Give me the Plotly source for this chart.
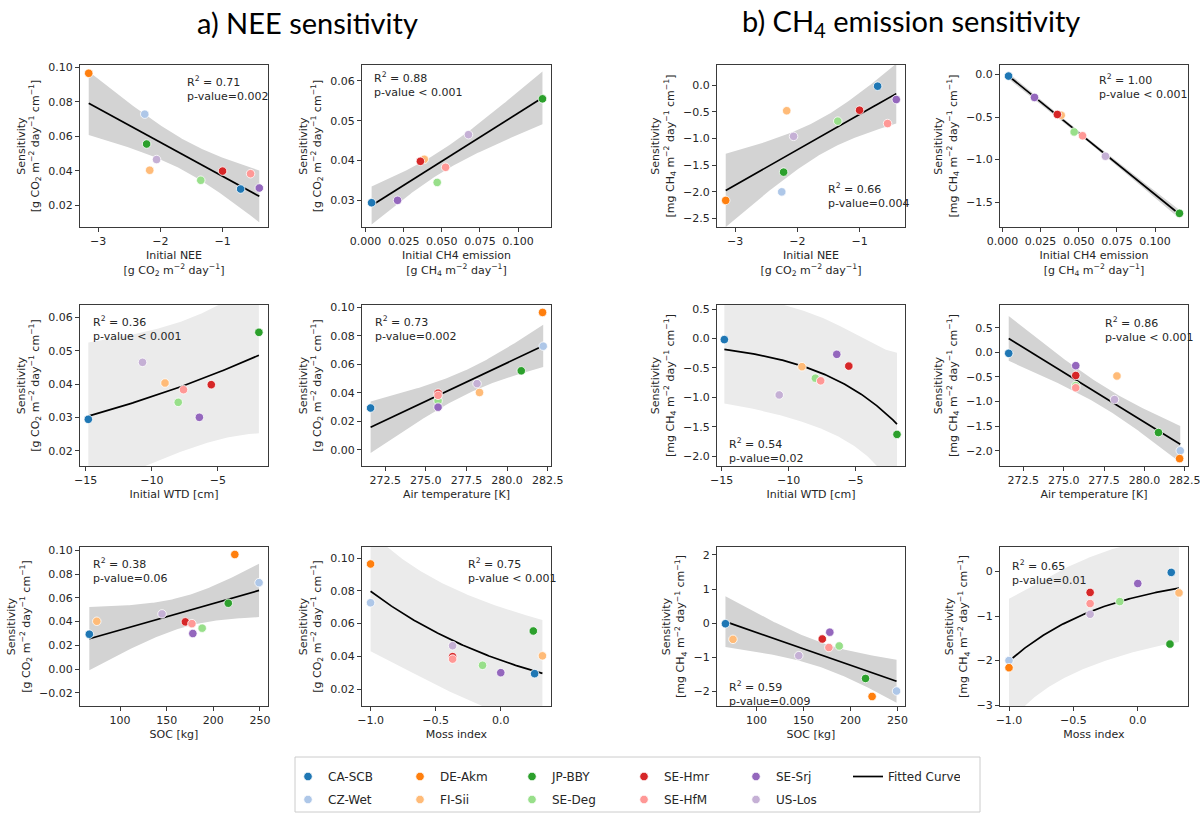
import numpy as np
import plotly.graph_objects as go

# ---------------- data ----------------
sites = ["CA-SCB", "CZ-Wet", "DE-Akm", "FI-Sii", "JP-BBY",
         "SE-Deg", "SE-Hmr", "SE-HfM", "SE-Srj", "US-Los"]
site_colors = ["#1f77b4", "#aec7e8", "#ff7f0e", "#ffbb78", "#2ca02c",
               "#98df8a", "#d62728", "#ff9896", "#9467bd", "#c5b0d5"]

initial_nee = [-0.71, -2.25, -3.15, -2.17, -2.22, -1.35, -1.00, -0.55, -0.41, -2.06]
initial_ch4 = [0.004, None, None, 0.0385, 0.116, 0.047, 0.036, 0.0525, 0.021, 0.0675]
initial_wtd = [-14.8, None, None, -9.0, -1.9, -8.0, -5.5, -7.6, -6.4, -10.7]
air_temp = [271.6, 282.22, 282.18, 278.3, 280.87, 275.75, 275.75, 275.75, 275.75, 278.15]
soc = [67, 249, 223, 75, 216, 188, 170, 177, 178, 145]
moss_index = [0.26, -1.0, -1.0, 0.32, 0.25, -0.14, -0.37, -0.37, 0.0, -0.37]

nee_sensitivity = [0.0294, 0.0728, 0.0965, 0.0403, 0.0555, 0.0345, 0.0398, 0.0383, 0.0300, 0.0465]
ch4_sensitivity = [-0.02, -2.00, -2.16, -0.48, -1.63, -0.675, -0.47, -0.72, -0.27, -0.96]

r2_labels = ["0.71", "0.88", "0.66", "1.00", "0.36", "0.73",
             "0.54", "0.86", "0.38", "0.75", "0.59", "0.65"]
p_labels = ["p-value=0.002", "p-value < 0.001", "p-value=0.004", "p-value < 0.001",
            "p-value < 0.001", "p-value=0.002", "p-value=0.02", "p-value < 0.001",
            "p-value=0.06", "p-value < 0.001", "p-value=0.009", "p-value=0.01"]

T975 = {6: 2.447, 7: 2.365, 8: 2.306}

# ---------------- fitting helpers ----------------
def lin_fit(x, y, xs):
    n = len(x)
    A = np.vstack([np.ones(n), x]).T
    coef = np.linalg.lstsq(A, y, rcond=None)[0]
    res = y - A @ coef
    s2 = (res ** 2).sum() / (n - 2)
    xb = x.mean()
    sxx = ((x - xb) ** 2).sum()
    fit = coef[0] + coef[1] * xs
    se = np.sqrt(s2 * (1.0 / n + (xs - xb) ** 2 / sxx))
    t = T975[n - 2]
    return fit, fit - t * se, fit + t * se


def exp_fit(x, y, xs):
    n = len(x)
    xc = x.mean()
    span = x.max() - x.min()
    bs = np.linspace(-8, 8, 16001) / span
    E = np.exp(np.outer(bs, x - xc))
    A = (E * y).sum(1) / (E * E).sum(1)
    sse = ((y[None, :] - A[:, None] * E) ** 2).sum(1)
    k = np.argmin(sse)
    a, b, s = A[k], bs[k], sse[k]
    e = np.exp(b * (x - xc))
    J = np.vstack([e, a * (x - xc) * e]).T
    s2 = s / (n - 2)
    cov = s2 * np.linalg.inv(J.T @ J)
    es = np.exp(b * (xs - xc))
    fit = a * es
    G = np.vstack([es, a * (xs - xc) * es]).T
    var = s2 + np.einsum('ij,jk,ik->i', G, cov, G)
    t = T975[n - 2]
    return fit, fit - t * np.sqrt(var), fit + t * np.sqrt(var)


# ---------------- panel layout ----------------
W, H = 1200, 817
cols_px = [(80, 268), (362, 551), (717, 905), (1000, 1188)]
rows_px = [(65, 227), (305, 466), (547, 706)]

nee_ytitle = "Sensitivity<br>[g CO<sub>2</sub> m<sup>\u22122</sup> day<sup>\u22121</sup> cm<sup>\u22121</sup>]"
ch4_ytitle = "Sensitivity<br>[mg CH<sub>4</sub> m<sup>\u22122</sup> day<sup>\u22121</sup> cm<sup>\u22121</sup>]"
t_nee = "Initial NEE<br>[g CO<sub>2</sub> m<sup>\u22122</sup> day<sup>\u22121</sup>]"
t_ch4 = "Initial CH4 emission<br>[g CH<sub>4</sub> m<sup>\u22122</sup> day<sup>\u22121</sup>]"

panels = [
    # x, y, model, row, col, xrange, yrange, xdtick, xfmt, ydtick, yfmt, xtitle, ytitle, annot(px)
    (initial_nee, nee_sensitivity, "lin", 0, 0, [-3.29, -0.27], [0.0074, 0.1013], 1, "d", 0.02, ".2f", t_nee, nee_ytitle, (185, 72)),
    (initial_ch4, nee_sensitivity, "lin", 0, 1, [-0.0023, 0.1216], [0.0233, 0.0640], 0.025, ".3f", 0.01, ".2f", t_ch4, nee_ytitle, (372, 68)),
    (initial_nee, ch4_sensitivity, "lin", 0, 2, [-3.29, -0.27], [-2.658, 0.377], 1, "d", 0.5, ".1f", t_nee, ch4_ytitle, (826, 179)),
    (initial_ch4, ch4_sensitivity, "lin", 0, 3, [-0.0016, 0.1216], [-1.79, 0.11], 0.025, ".3f", 0.5, ".1f", t_ch4, ch4_ytitle, (1097, 70)),
    (initial_wtd, nee_sensitivity, "exp", 1, 0, [-15.43, -1.21], [0.0154, 0.0637], 5, "d", 0.01, ".2f", "Initial WTD [cm]", nee_ytitle, (91, 312)),
    (air_temp, nee_sensitivity, "lin", 1, 1, [271.07, 282.7], [-0.0113, 0.1017], 2.5, ".1f", 0.02, ".2f", "Air temperature [K]", nee_ytitle, (373, 312)),
    (initial_wtd, ch4_sensitivity, "exp", 1, 2, [-15.35, -1.3], [-2.167, 0.568], 5, "d", 0.5, ".1f", "Initial WTD [cm]", ch4_ytitle, (727, 434)),
    (air_temp, ch4_sensitivity, "lin", 1, 3, [271.06, 282.7], [-2.31, 0.963], 2.5, ".1f", 0.5, ".1f", "Air temperature [K]", ch4_ytitle, (1103, 313)),
    (soc, nee_sensitivity, "lin", 2, 0, [57, 258.6], [-0.031, 0.1028], 50, "d", 0.02, ".2f", "SOC [kg]", nee_ytitle, (91, 554)),
    (moss_index, nee_sensitivity, "exp", 2, 1, [-1.066, 0.386], [0.0096, 0.1069], 0.5, ".1f", 0.02, ".2f", "Moss index", nee_ytitle, (466, 554)),
    (soc, ch4_sensitivity, "lin", 2, 2, [58, 258], [-2.44, 2.235], 50, "d", 1, "d", "SOC [kg]", ch4_ytitle, (727, 677)),
    (moss_index, ch4_sensitivity, "exp", 2, 3, [-1.07, 0.39], [-3.02, 0.55], 0.5, ".1f", 1, "d", "Moss index", ch4_ytitle, (1010, 556)),
]

TICKFONT = dict(family="DejaVu Sans", size=11, color="#262626")
fig = go.Figure()
annotations = []

for i, (xv, yv, model, r, c, xr, yr, xdt, xf, ydt, yf, xt, yt, ann) in enumerate(panels):
    sfx = "" if i == 0 else str(i + 1)
    xa, ya = "x" + sfx, "y" + sfx
    idx = [k for k in range(len(sites)) if xv[k] is not None]
    x = np.array([xv[k] for k in idx], float)
    y = np.array([yv[k] for k in idx], float)
    xs = np.linspace(x.min(), x.max(), 120)
    if model == "lin":
        fit, lo, hi = lin_fit(x, y, xs)
        band = "#d3d3d3"
    else:
        fit, lo, hi = exp_fit(x, y, xs)
        band = "#ebebeb"
    fig.add_trace(go.Scatter(x=xs, y=lo, mode="lines", line=dict(width=0, color=band),
                             showlegend=False, hoverinfo="skip", xaxis=xa, yaxis=ya))
    fig.add_trace(go.Scatter(x=xs, y=hi, mode="lines", line=dict(width=0, color=band),
                             fill="tonexty", fillcolor=band, showlegend=False,
                             hoverinfo="skip", xaxis=xa, yaxis=ya))
    fig.add_trace(go.Scatter(x=xs, y=fit, mode="lines", line=dict(color="black", width=1.7),
                             name="Fitted Curve", showlegend=(i == 0), legend="legend",
                             legendrank=6, xaxis=xa, yaxis=ya))
    for k in idx:
        fig.add_trace(go.Scatter(
            x=[xv[k]], y=[yv[k]], mode="markers", name=sites[k],
            marker=dict(color=site_colors[k], size=8.5, line=dict(color="white", width=0.8)),
            showlegend=(i == 0), legend=("legend" if k % 2 == 0 else "legend2"),
            legendrank=k // 2 + 1, xaxis=xa, yaxis=ya))

    x0, x1 = cols_px[c]
    y0, y1 = rows_px[r]
    axcommon = dict(showline=True, mirror=True, linecolor="#3a3a3a", linewidth=1,
                    ticks="outside", ticklen=4, tickcolor="#3a3a3a", showgrid=False,
                    zeroline=False, tickfont=TICKFONT, automargin=False,
                    ticklabeloverflow="allow")
    fig.layout["xaxis" + sfx] = dict(domain=[x0 / W, x1 / W], range=xr, anchor=ya,
                                     dtick=xdt, tick0=0, tickformat=xf,
                                     title=dict(text=xt, font=dict(family="DejaVu Sans", size=11, color="#262626"),
                                                standoff=4),
                                     **axcommon)
    fig.layout["yaxis" + sfx] = dict(domain=[1 - y1 / H, 1 - y0 / H], range=yr, anchor=xa,
                                     dtick=ydt, tick0=0, tickformat=yf,
                                     title=dict(text=yt, font=dict(family="DejaVu Sans", size=11, color="#262626"),
                                                standoff=6),
                                     **axcommon)
    annotations.append(dict(
        x=ann[0] / W, y=1 - ann[1] / H, xref="paper", yref="paper",
        xanchor="left", yanchor="top", align="left", showarrow=False,
        text="R<sup>2</sup> = " + r2_labels[i] + "<br>" + p_labels[i],
        font=dict(family="DejaVu Sans", size=11, color="#262626")))

annotations.append(dict(x=307 / W, y=1 - 22 / H, xref="paper", yref="paper", showarrow=False,
                        text="a) NEE sensitivity", xanchor="center", yanchor="middle",
                        font=dict(family="Lato", size=29, color="black")))
annotations.append(dict(x=911 / W, y=1 - 22 / H, xref="paper", yref="paper", showarrow=False,
                        text="b) CH<sub>4</sub> emission sensitivity", xanchor="center", yanchor="middle",
                        font=dict(family="Lato", size=29, color="black")))

legend_common = dict(orientation="h", xanchor="left", yanchor="top", entrywidth=67,
                     entrywidthmode="pixels", bgcolor="rgba(0,0,0,0)", borderwidth=0,
                     traceorder="normal",
                     font=dict(family="DejaVu Sans", size=12, color="#262626"),
                     itemclick=False, itemdoubleclick=False)

fig.update_layout(
    width=W, height=H, autosize=False,
    margin=dict(l=0, r=0, t=0, b=0, autoexpand=False),
    paper_bgcolor="white", plot_bgcolor="white",
    annotations=annotations,
    legend=dict(x=288 / W, y=1 - 762 / H, **legend_common),
    legend2=dict(x=288 / W, y=1 - 785 / H, **legend_common),
    shapes=[dict(type="rect", xref="paper", yref="paper",
                 x0=295 / W, x1=980 / W, y0=1 - 812 / H, y1=1 - 757 / H,
                 line=dict(color="#cccccc", width=1), fillcolor="rgba(0,0,0,0)")],
)

fig.write_html("out.html",
               config={"displayModeBar": False},
               post_script="document.body.style.margin='0px';"
                           "document.body.style.overflow='hidden';")
